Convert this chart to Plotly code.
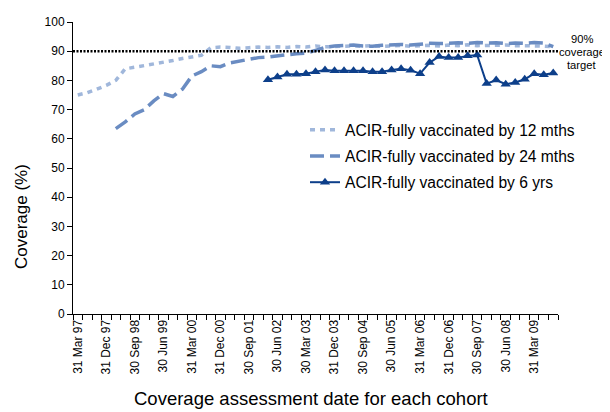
import plotly.graph_objects as go

quarters = [
    "31 Mar 97", "30 Jun 97", "30 Sep 97", "31 Dec 97",
    "31 Mar 98", "30 Jun 98", "30 Sep 98", "31 Dec 98",
    "31 Mar 99", "30 Jun 99", "30 Sep 99", "31 Dec 99",
    "31 Mar 00", "30 Jun 00", "30 Sep 00", "31 Dec 00",
    "31 Mar 01", "30 Jun 01", "30 Sep 01", "31 Dec 01",
    "31 Mar 02", "30 Jun 02", "30 Sep 02", "31 Dec 02",
    "30 Mar 03", "30 Jun 03", "30 Sep 03", "31 Dec 03",
    "31 Mar 04", "30 Jun 04", "30 Sep 04", "31 Dec 04",
    "31 Mar 05", "30 Jun 05", "30 Sep 05", "31 Dec 05",
    "31 Mar 06", "30 Jun 06", "30 Sep 06", "31 Dec 06",
    "31 Mar 07", "30 Jun 07", "30 Sep 07", "31 Dec 07",
    "31 Mar 08", "30 Jun 08", "30 Sep 08", "31 Dec 08",
    "31 Mar 09", "30 Jun 09", "30 Sep 09",
]

shown_labels = [
    "31 Mar 97", "31 Dec 97", "30 Sep 98", "30 Jun 99", "31 Mar 00",
    "31 Dec 00", "30 Sep 01", "30 Jun 02", "30 Mar 03", "31 Dec 03",
    "30 Sep 04", "30 Jun 05", "31 Mar 06", "31 Dec 06", "30 Sep 07",
    "30 Jun 08", "31 Mar 09",
]

by_12_mths = [
    75.0, 75.8, 77.0, 78.3, 80.0, 84.0, 84.5, 85.0, 85.7, 86.2,
    86.8, 87.5, 88.0, 88.6, 91.2, 91.4, 91.3, 91.0, 91.2, 91.4,
    91.3, 91.5, 91.3, 91.6, 91.4, 91.8, 91.5, 91.7, 91.6, 91.8,
    91.7, 91.9, 91.6, 91.8, 92.0, 91.7, 91.9, 92.0, 91.8, 92.1,
    91.9, 92.2, 91.9, 92.0, 91.8, 92.1, 91.9, 92.0, 91.8, 91.7,
    91.5,
]

by_24_mths = [
    None, None, None, None, 63.5, 65.8, 68.5, 70.0, 73.0, 75.5,
    74.5, 77.0, 81.5, 83.0, 85.0, 84.7, 86.0, 86.7, 87.3, 87.8,
    88.0, 88.5, 88.8, 89.1, 89.3, 90.3, 91.3, 91.8, 92.0, 92.1,
    91.8, 91.7, 92.0, 92.2, 92.3, 92.1, 92.5, 92.7, 92.6, 92.8,
    92.9, 92.7, 93.0, 92.8, 92.9, 92.6, 92.8, 92.7, 93.0, 92.8,
    91.6,
]

by_6_yrs = [
    None, None, None, None, None, None, None, None, None, None,
    None, None, None, None, None, None, None, None, None, None,
    80.2, 81.2, 82.1, 82.1, 82.3, 83.0, 83.6, 83.3, 83.3, 83.3,
    83.3, 83.0, 83.0, 83.6, 84.0, 83.5, 82.3, 86.1, 88.2, 87.8,
    87.8, 88.4, 88.7, 78.9, 80.1, 78.7, 79.3, 80.4, 82.3, 81.9,
    82.5,
]

target = 90
target_label = ["90%", "coverage", "target"]

x_idx = list(range(len(quarters)))
tick_idx = [quarters.index(lbl) for lbl in shown_labels]

FONT = "Liberation Sans, Arial, sans-serif"

# Figure geometry (the page adds an 8px body margin)
W, H = 602, 404
L, R, T, B = 65, 52, 14, 98
PW, PH = W - L - R, H - T - B


def px(sx):  # screen x -> paper x
    return (sx - 8 - L) / PW


def py(sy):  # screen y -> paper y
    return 1 - (sy - 8 - T) / PH


fig = go.Figure()
fig.add_trace(go.Scatter(
    x=x_idx, y=by_12_mths, mode="lines",
    name="ACIR-fully vaccinated by 12 mths",
    line=dict(color="#A0B7DB", width=3.5, dash="5px,5px"),
    legendgroup="a",
))
fig.add_trace(go.Scatter(
    x=x_idx, y=by_24_mths, mode="lines",
    name="ACIR-fully vaccinated by 24 mths",
    line=dict(color="#6A8CC2", width=3.5, dash="14px,6px"),
    legendgroup="b",
))
fig.add_trace(go.Scatter(
    x=x_idx, y=by_6_yrs, mode="lines+markers",
    name="ACIR-fully vaccinated by 6 yrs",
    line=dict(color="#0D3F8A", width=2),
    marker=dict(symbol="triangle-up", size=9, color="#0D3F8A"),
    legendgroup="c",
))

fig.add_shape(
    type="line", xref="paper", yref="y", x0=0, x1=1, y0=target, y1=target,
    line=dict(color="black", width=2.5, dash="2px,1.5px"),
)

for txt, sy in zip(target_label, [39.5, 52.1, 64.7]):
    fig.add_annotation(
        text=txt, xref="paper", yref="paper",
        x=px(582), y=py(sy),
        showarrow=False, xanchor="center", yanchor="middle",
        font=dict(family=FONT, size=11.2, color="black"),
    )

fig.add_annotation(
    text="Coverage (%)", xref="paper", yref="paper",
    x=px(21), y=py(217), textangle=-90,
    showarrow=False, xanchor="center", yanchor="middle",
    font=dict(family=FONT, size=17, color="black"),
)
fig.add_annotation(
    text="Coverage assessment date for each cohort", xref="paper", yref="paper",
    x=px(311), y=py(398),
    showarrow=False, xanchor="center", yanchor="middle",
    font=dict(family=FONT, size=18.5, color="black"),
)

fig.update_layout(
    width=W, height=H,
    margin=dict(l=L, r=R, t=T, b=B, autoexpand=False),
    paper_bgcolor="white", plot_bgcolor="white",
    font=dict(family=FONT, color="black"),
    showlegend=True,
    legend=dict(
        x=px(305), y=py(113), xanchor="left", yanchor="top",
        bgcolor="rgba(0,0,0,0)",
        font=dict(family=FONT, size=15.6, color="black"),
        traceorder="grouped", tracegroupgap=3,
    ),
    xaxis=dict(
        range=[-0.5, len(quarters) - 0.5],
        tickmode="array", tickvals=tick_idx, ticktext=shown_labels,
        tickangle=-90, ticks="", showgrid=False, zeroline=False,
        showline=True, linecolor="black", linewidth=1,
        tickfont=dict(family=FONT, size=12),
        minor=dict(tickmode="linear", tick0=-0.5, dtick=1, ticks="outside",
                   ticklen=5, tickcolor="black", showgrid=False),
    ),
    yaxis=dict(
        range=[0, 100], dtick=10, ticks="outside", ticklen=5,
        tickcolor="black", showgrid=False, zeroline=False,
        showline=True, linecolor="black", linewidth=1,
        tickfont=dict(family=FONT, size=12),
    ),
)

fig.write_html("out.html")
